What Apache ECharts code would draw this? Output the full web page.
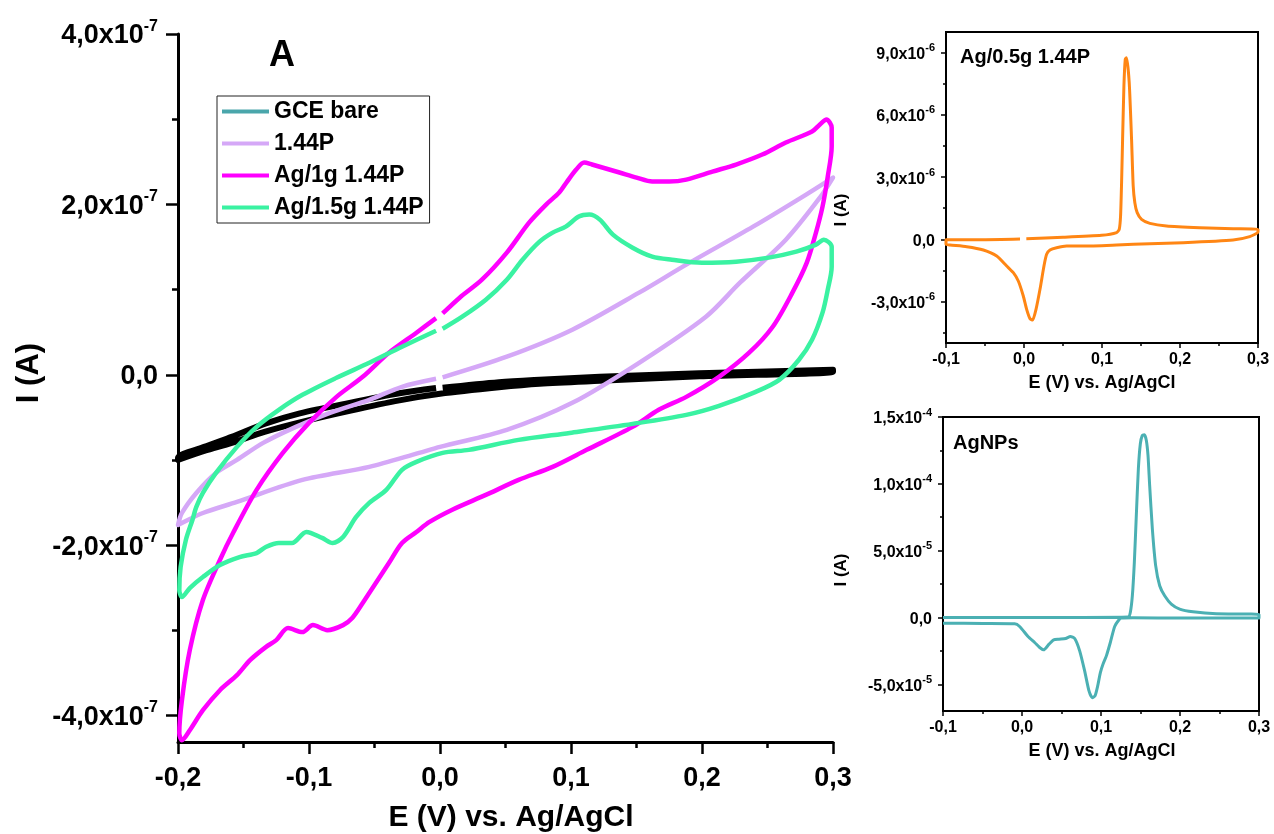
<!DOCTYPE html>
<html><head><meta charset="utf-8">
<script src="https://cdn.jsdelivr.net/npm/echarts@6/dist/echarts.min.js"></script>
<style>html,body{margin:0;padding:0;background:#fff}#c{width:1274px;height:834px}</style>
</head><body><div id="c"></div>
<script>
// ---- Main CV panel: [E (V), I (x1e-7 A)] ----
const mainNames = ['GCE bare', '1.44P', 'Ag/1g 1.44P', 'Ag/1.5g 1.44P'];
const gceBare = [[0.002,-0.153],[0.045,-0.088],[0.076,-0.059],[0.122,-0.024],[0.198,0.018],[0.3,0.059],
 [0.3,0.035],[0.198,-0.018],[0.122,-0.071],[0.076,-0.106],[0.045,-0.147],[0.0,-0.223],[-0.031,-0.300],[-0.069,-0.423],[-0.107,-0.558],[-0.134,-0.670],[-0.159,-0.799],[-0.18,-0.893],[-0.2,-0.999],
 [-0.2,-0.975],[-0.18,-0.846],[-0.159,-0.729],[-0.134,-0.576],[-0.107,-0.452],[-0.069,-0.329],[-0.031,-0.217],[-0.003,-0.155]];
const p144 = [[0.002,-0.03],[0.051,0.212],[0.101,0.529],[0.152,0.964],[0.188,1.293],[0.239,1.739],[0.277,2.092],[0.3,2.315],
 [0.29,2.08],[0.264,1.586],[0.229,1.081],[0.203,0.682],[0.152,0.141],[0.101,-0.329],[0.051,-0.646],[0.0,-0.846],[-0.016,-0.917],[-0.054,-1.081],[-0.105,-1.234],[-0.155,-1.492],[-0.181,-1.622],[-0.197,-1.739],[-0.2,-1.763],
 [-0.197,-1.622],[-0.186,-1.387],[-0.171,-1.152],[-0.155,-0.999],[-0.135,-0.799],[-0.11,-0.611],[-0.084,-0.447],[-0.054,-0.294],[-0.029,-0.141],[-0.003,-0.047]];
const ag1g = [[0.002,0.72],[0.015,0.905],[0.032,1.116],[0.051,1.434],[0.068,1.786],[0.081,1.998],[0.091,2.139],[0.097,2.268],[0.104,2.409],[0.110,2.491],[0.116,2.468],[0.137,2.374],[0.150,2.315],[0.162,2.268],[0.175,2.268],[0.188,2.291],[0.208,2.385],[0.226,2.468],[0.246,2.585],[0.264,2.726],[0.284,2.855],[0.290,2.938],[0.295,2.997],[0.299,2.902],
 [0.299,2.679],[0.296,2.327],[0.292,1.974],[0.287,1.669],[0.280,1.316],[0.269,0.964],[0.254,0.564],[0.236,0.259],[0.213,-0.024],[0.188,-0.259],[0.167,-0.411],[0.147,-0.611],[0.112,-0.881],[0.086,-1.081],[0.060,-1.234],[0.035,-1.410],[0.009,-1.586],[-0.008,-1.727],[-0.018,-1.845],[-0.029,-1.974],[-0.039,-2.209],[-0.049,-2.444],[-0.059,-2.679],[-0.067,-2.855],[-0.074,-2.938],[-0.086,-2.997],[-0.097,-2.938],[-0.105,-3.020],[-0.116,-2.973],[-0.125,-3.114],[-0.133,-3.196],[-0.145,-3.349],[-0.155,-3.525],[-0.168,-3.702],[-0.181,-3.937],[-0.191,-4.172],[-0.197,-4.289],[-0.199,-4.207],
 [-0.197,-3.819],[-0.191,-3.232],[-0.181,-2.644],[-0.168,-2.174],[-0.158,-1.857],[-0.140,-1.351],[-0.120,-0.917],[-0.100,-0.564],[-0.079,-0.259],[-0.059,-0.024],[-0.039,0.259],[-0.018,0.494],[-0.003,0.665]];
const ag15g = [[0.002,0.54],[0.017,0.682],[0.035,0.881],[0.051,1.116],[0.063,1.351],[0.076,1.563],[0.086,1.669],[0.096,1.739],[0.106,1.857],[0.114,1.880],[0.122,1.821],[0.132,1.645],[0.147,1.492],[0.162,1.387],[0.177,1.351],[0.200,1.316],[0.226,1.328],[0.251,1.375],[0.272,1.445],[0.287,1.528],[0.293,1.586],[0.299,1.504],
 [0.299,1.269],[0.296,0.999],[0.292,0.729],[0.284,0.411],[0.274,0.176],[0.259,-0.059],[0.241,-0.200],[0.213,-0.364],[0.188,-0.470],[0.147,-0.576],[0.099,-0.682],[0.060,-0.764],[0.022,-0.881],[0.002,-0.917],[-0.018,-1.022],[-0.029,-1.116],[-0.041,-1.351],[-0.054,-1.504],[-0.064,-1.669],[-0.074,-1.904],[-0.082,-1.974],[-0.090,-1.915],[-0.102,-1.845],[-0.113,-1.974],[-0.123,-1.974],[-0.133,-2.021],[-0.140,-2.092],[-0.153,-2.139],[-0.168,-2.233],[-0.181,-2.374],[-0.191,-2.503],[-0.197,-2.609],[-0.199,-2.526],
 [-0.198,-2.256],[-0.194,-1.939],[-0.189,-1.704],[-0.186,-1.551],[-0.181,-1.387],[-0.171,-1.152],[-0.155,-0.846],[-0.140,-0.611],[-0.123,-0.411],[-0.105,-0.235],[-0.079,-0.035],[-0.054,0.141],[-0.029,0.329],[-0.003,0.517]];

// ---- Inset 1: Ag/0.5g 1.44P  [E (V), I (x1e-6 A)] ----
const ag05g = [[0.003,0.032],[0.05,0.096],[0.0995,0.193],[0.1187,0.322],[0.1221,0.482],[0.1238,1.125],[0.1251,2.733],[0.1264,4.823],[0.1281,7.395],[0.1298,8.682],[0.1315,8.762],[0.1349,7.556],[0.1379,4.823],[0.14,2.572],[0.1421,1.768],[0.1451,1.286],[0.1507,0.965],[0.1614,0.772],[0.1827,0.643],[0.2254,0.563],[0.2681,0.514],[0.3,0.482],
 [0.3,0.354],[0.2894,0.129],[0.2681,-0.032],[0.2041,-0.161],[0.1614,-0.209],[0.1187,-0.273],[0.076,-0.322],[0.0546,-0.322],[0.0418,-0.402],[0.0333,-0.514],[0.029,-0.723],[0.0256,-1.286],[0.0205,-2.412],[0.0154,-3.376],[0.0111,-3.891],[0.0077,-3.826],[0.0034,-3.376],[-0.0009,-2.733],[-0.0073,-2.01],[-0.0137,-1.608],[-0.0222,-1.286],[-0.035,-0.804],[-0.0521,-0.514],[-0.0734,-0.354],[-0.0948,-0.273],[-0.1,-0.241],
 [-0.1,-0.016],[-0.0521,-0.016],[-0.0051,0.016]];

// ---- Inset 2: AgNPs  [E (V), I (x1e-5 A)] ----
const agNPs = [[-0.1,0],[0,0],[0.0772,0],[0.1342,0.025],[0.1371,0.375],[0.1397,1.625],[0.1422,4.125],[0.1447,7.625],[0.1473,11.125],[0.1498,13.0],[0.1523,13.625],[0.1549,13.675],[0.1574,13.25],[0.1595,12.125],[0.1616,9.875],[0.165,6.625],[0.1692,3.875],[0.1743,2.375],[0.1806,1.625],[0.189,1.0],[0.1996,0.625],[0.2165,0.425],[0.246,0.275],[0.3,0.225],
 [0.3,-0.05],[0.2038,-0.05],[0.1405,-0.025],[0.1257,-0.05],[0.1228,-0.175],[0.1173,-0.675],[0.1118,-1.875],[0.1068,-2.875],[0.1025,-3.5],[0.0992,-4.125],[0.0958,-5.125],[0.0924,-5.875],[0.089,-6.0],[0.0848,-5.5],[0.0793,-4.0],[0.073,-2.5],[0.0667,-1.575],[0.0612,-1.425],[0.0553,-1.575],[0.0468,-1.625],[0.0401,-1.675],[0.0342,-2.0],[0.0274,-2.425],[0.0224,-2.25],[0.016,-1.875],[0.0076,-1.425],[-0.003,-0.675],[-0.0093,-0.475],[-0.0494,-0.45],[-0.1,-0.425]];

// tick values
const mainYMajor = [-4e-7,-2e-7,0,2e-7,4e-7];
const mainYMinor = [-3e-7,-1e-7,1e-7,3e-7];
const in1YMajor = [-3e-6,0,3e-6,6e-6,9e-6];
const in1YMinor = [-4.5e-6,-1.5e-6,1.5e-6,4.5e-6,7.5e-6];
const in2YMajor = [-5e-5,0,5e-5,1e-4,1.5e-4];
const in2YMinor = [-2.5e-5,2.5e-5,7.5e-5,1.25e-4];

const FF = '"Liberation Sans", Arial, sans-serif';
const scale = (arr, k) => arr.map(p => [p[0], p[1] * k]);

function sci(v) {
  if (Math.abs(v) < 1e-15) return '{m|0,0}';
  const e = Math.floor(Math.log10(Math.abs(v)) + 1e-9);
  const m = v / Math.pow(10, e);
  return '{m|' + m.toFixed(1).replace('.', ',') + 'x10}{s|' + e + '}';
}
const fmtX = v => Math.abs(v) < 1e-9 ? '0,0' : v.toFixed(1).replace('.', ',');

function yAxes(grid, min, max, major, minor, big) {
  const fs = big ? 27 : 16, ss = big ? 16 : 11;
  const lw = big ? 3 : 2;
  return [{
    type: 'value', gridIndex: grid, min, max, position: 'left',
    axisLine: { show: true, onZero: false, lineStyle: { color: '#000', width: lw } },
    axisTick: { show: true, customValues: major, length: big ? 12 : 5, lineStyle: { color: '#000', width: big ? 2.5 : 1.5 } },
    axisLabel: { customValues: major, formatter: sci, margin: big ? 20 : 11, color: '#000',
      rich: { m: { fontSize: fs, fontWeight: 'bold', fontFamily: FF, color: '#000', verticalAlign: 'bottom', lineHeight: fs + 4 },
              s: { fontSize: ss, fontWeight: 'bold', fontFamily: FF, color: '#000', verticalAlign: 'top', lineHeight: ss + 1 } } },
    splitLine: { show: false }
  }, {
    type: 'value', gridIndex: grid, min, max, position: 'left',
    axisLine: { show: false, onZero: false },
    axisTick: { show: true, customValues: minor, length: big ? 6 : 3, lineStyle: { color: '#000', width: big ? 2.5 : 1.5 } },
    axisLabel: { show: false }, splitLine: { show: false }
  }];
}
function xAxis(grid, min, max, big) {
  return {
    type: 'value', gridIndex: grid, min, max, interval: 0.1,
    axisLine: { show: true, onZero: false, lineStyle: { color: '#000', width: big ? 3 : 2 } },
    axisTick: { show: true, length: big ? 12 : 5, lineStyle: { color: '#000', width: big ? 2.5 : 1.5 } },
    minorTick: { show: true, splitNumber: 2, length: big ? 6 : 3, lineStyle: { color: '#000', width: big ? 2.5 : 1.5 } },
    axisLabel: { formatter: fmtX, margin: big ? 23 : 9, color: '#000', fontSize: big ? 27 : 16, fontWeight: 'bold', fontFamily: FF },
    splitLine: { show: false }, minorSplitLine: { show: false }
  };
}
const line = (name, data, color, xi, yi, w, sm) => ({
  name, type: 'line', xAxisIndex: xi, yAxisIndex: yi, data, showSymbol: false, symbol: 'none', smooth: sm,
  lineStyle: { color, width: w, join: 'round', cap: 'butt' }, itemStyle: { color }, animation: false
});
const txt = (x, y, text, size, rot) => ({
  type: 'text', x, y, rotation: rot || 0, silent: true,
  style: { text, fontSize: size, fontWeight: 'bold', fontFamily: FF, fill: '#000', textAlign: 'center', textVerticalAlign: 'middle' }
});

const chart = echarts.init(document.getElementById('c'), null, { renderer: 'canvas' });
chart.setOption({
  backgroundColor: '#fff',
  animation: false,
  grid: [
    { left: 178, top: 34, right: 441, bottom: 92, outerBoundsMode: 'none' },
    { left: 946, top: 32, right: 16, bottom: 491, show: true, borderColor: '#000', borderWidth: 2, backgroundColor: 'transparent', outerBoundsMode: 'none' },
    { left: 943, top: 417, right: 15, bottom: 123, show: true, borderColor: '#000', borderWidth: 2, backgroundColor: 'transparent', outerBoundsMode: 'none' }
  ],
  xAxis: [xAxis(0, -0.2, 0.3, true), xAxis(1, -0.1, 0.3, false), xAxis(2, -0.1, 0.3, false)],
  yAxis: [].concat(
    yAxes(0, -4.31e-7, 4e-7, mainYMajor, mainYMinor, true),
    yAxes(1, -5e-6, 1e-5, in1YMajor, in1YMinor, false),
    yAxes(2, -7e-5, 1.5e-4, in2YMajor, in2YMinor, false)
  ),
  legend: {
    orient: 'vertical', left: 217, top: 96, padding: [4, 6, 4, 5], itemGap: 9,
    itemWidth: 47, itemHeight: 4, icon: 'rect',
    borderColor: '#222', borderWidth: 1, backgroundColor: '#fff',
    textStyle: { fontSize: 23, fontWeight: 'bold', fontFamily: FF, color: '#000' },
    data: [
      { name: mainNames[0], itemStyle: { color: '#4aa6ab' } },
      { name: mainNames[1], itemStyle: { color: '#d5a8f7' } },
      { name: mainNames[2], itemStyle: { color: '#ff00ff' } },
      { name: mainNames[3], itemStyle: { color: '#3af2a2' } }
    ]
  },
  graphic: [
    txt(282, 56, 'A', 36),
    txt(29, 373, 'I (A)', 31, Math.PI / 2),
    txt(511, 818, 'E (V) vs. Ag/AgCl', 30),
    { type: 'text', x: 960, y: 57, silent: true, style: { text: 'Ag/0.5g 1.44P', fontSize: 20, fontWeight: 'bold', fontFamily: FF, fill: '#000', textAlign: 'left', textVerticalAlign: 'middle' } },
    { type: 'text', x: 953, y: 443, silent: true, style: { text: 'AgNPs', fontSize: 20, fontWeight: 'bold', fontFamily: FF, fill: '#000', textAlign: 'left', textVerticalAlign: 'middle' } },
    txt(1102, 383, 'E (V) vs. Ag/AgCl', 18),
    txt(1102, 751, 'E (V) vs. Ag/AgCl', 18),
    txt(841, 210, 'I (A)', 17, Math.PI / 2),
    txt(841, 570, 'I (A)', 17, Math.PI / 2)
  ],
  series: [
    line(mainNames[0], scale(gceBare, 1e-7), '#000000', 0, 0, 6, 0.3),
    line(mainNames[1], scale(p144, 1e-7), '#d5a8f7', 0, 0, 4.5, 0.3),
    line(mainNames[2], scale(ag1g, 1e-7), '#ff00ff', 0, 0, 4.5, 0.3),
    line(mainNames[3], scale(ag15g, 1e-7), '#3af2a2', 0, 0, 4.5, 0.3),
    line('Ag/0.5g 1.44P', scale(ag05g, 1e-6), '#ff8614', 1, 2, 3, 0.2),
    line('AgNPs', scale(agNPs, 1e-5), '#4bb0b3', 2, 4, 3, 0.2)
  ]
});
</script></body></html>
